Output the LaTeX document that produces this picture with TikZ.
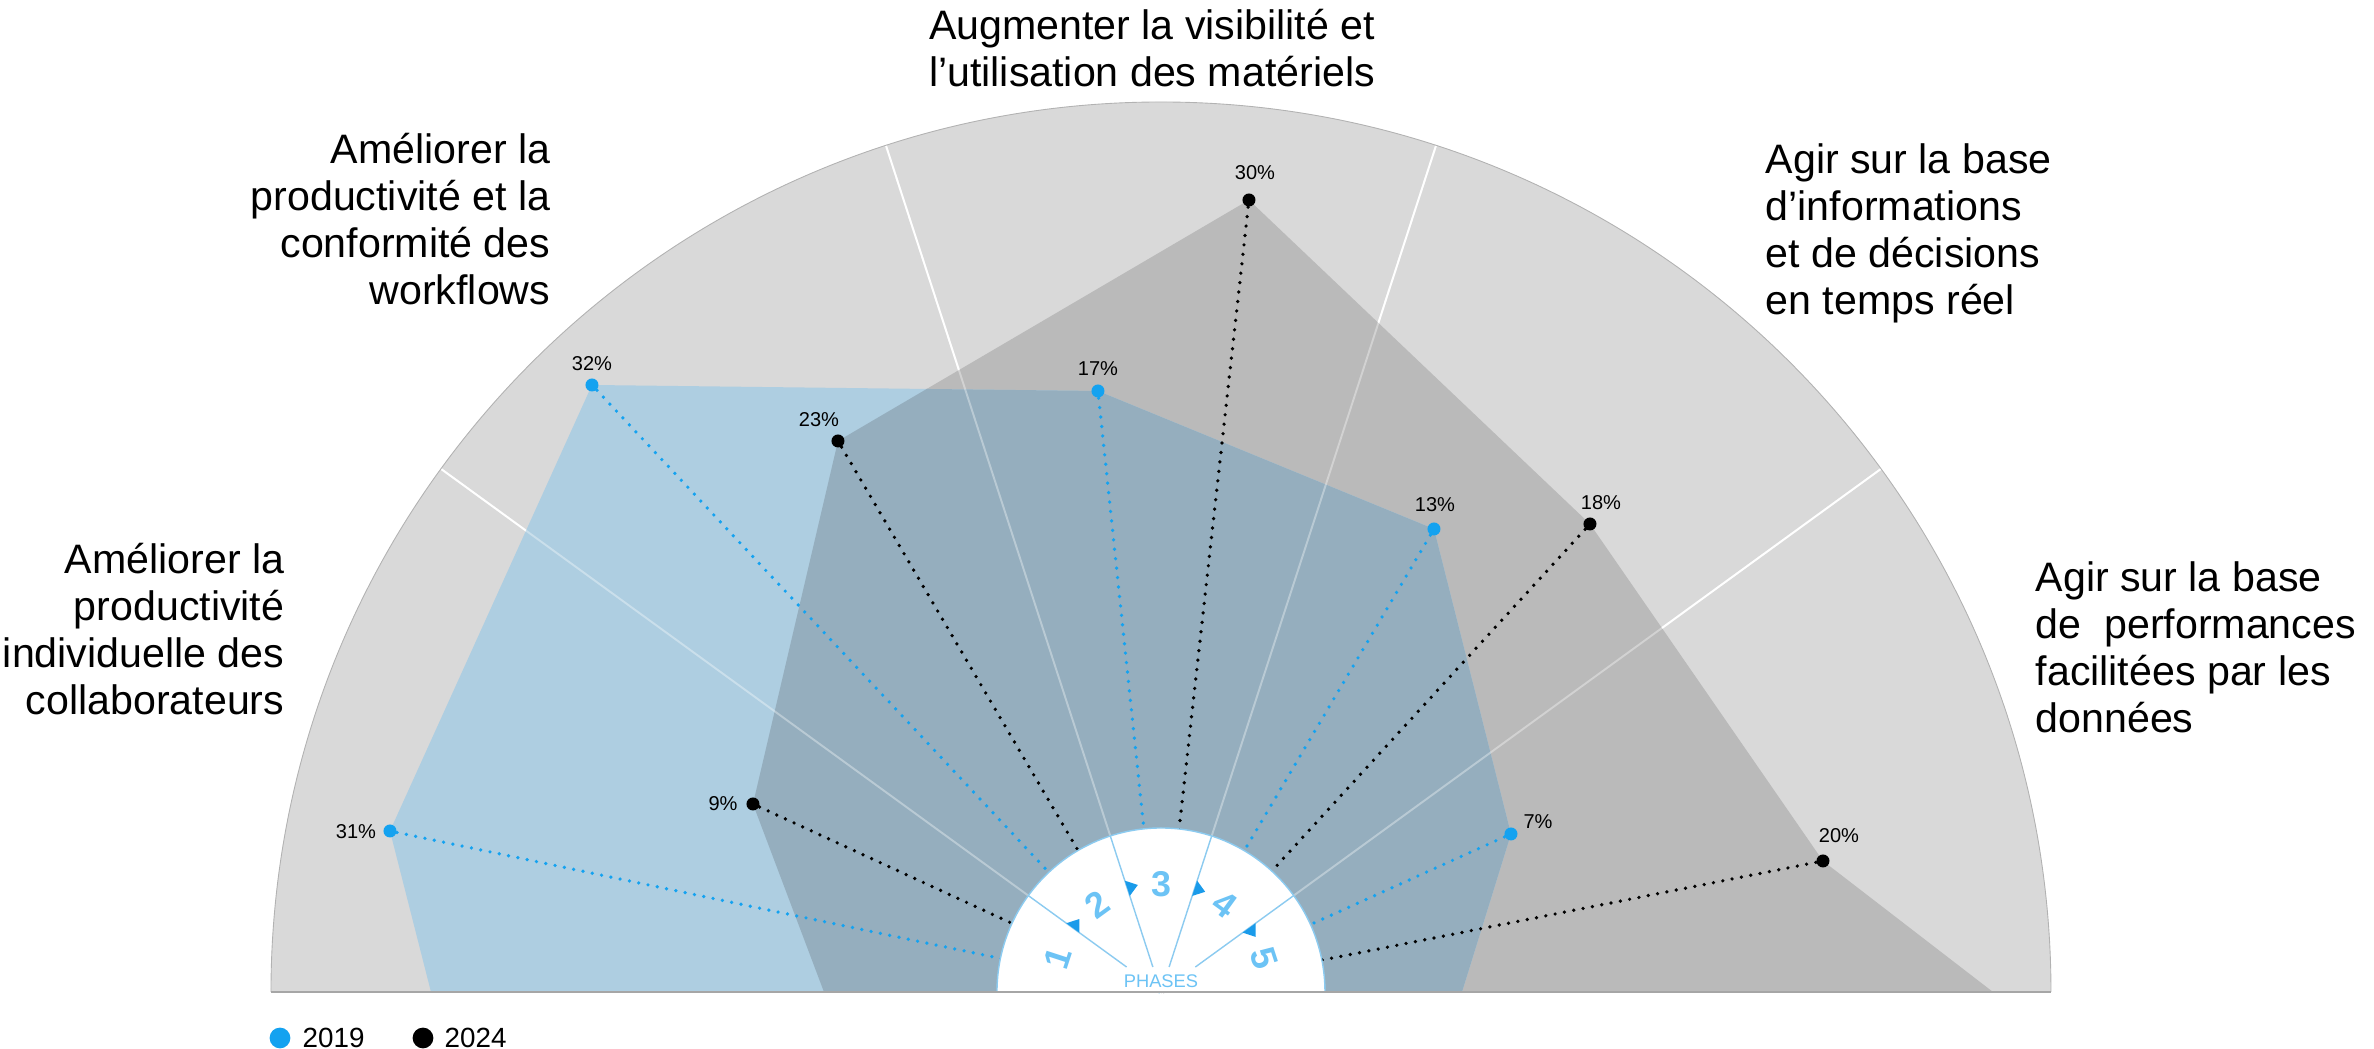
\documentclass[tikz,border=0pt]{standalone}
\usepackage{fontspec}
\setmainfont{Liberation Sans}
\definecolor{sectorgrey}{HTML}{D9D9D9}
\definecolor{grey24}{HTML}{BABABA}
\definecolor{blue19}{HTML}{AECEE1}
\definecolor{mix}{HTML}{95AEBE}
\definecolor{dotblue}{HTML}{14A2F0}
\definecolor{phaseblue}{HTML}{6CC3F5}
\definecolor{tipblue}{HTML}{1A9BEA}
\definecolor{rimblue}{HTML}{8CCBF0}

\begin{document}
\begin{tikzpicture}[
    x=0.01cm, y=0.01cm,
    point19/.style={circle, fill=dotblue, minimum size=3.7pt, inner sep=0pt},
    point24/.style={circle, fill=black, minimum size=3.7pt, inner sep=0pt},
    link19/.style={dotblue, line width=1.05pt, line cap=round, dash pattern=on 0pt off 2.7pt},
    link24/.style={black, line width=1.05pt, line cap=round, dash pattern=on 0pt off 2.7pt},
    pct/.style={inner sep=0pt, font=\fontsize{5.7}{6}\selectfont},
    goal/.style={inner sep=0pt, font=\fontsize{11.7}{13.4}\selectfont},
    phase/.style={inner sep=0pt, text=phaseblue, font=\fontsize{10.2}{11}\selectfont\bfseries},
    spoke/.style={white, line width=0.55pt},
    rim/.style={rimblue, line width=0.4pt},
    legend/.style={inner sep=0pt, font=\fontsize{7.9}{9}\selectfont}
]
    \useasboundingbox (-1161,-57) rectangle (1213,992);
    \coordinate (o) at (0,0);

    \coordinate (v19a) at (-771,161);
    \coordinate (v19b) at (-569,607);
    \coordinate (v19c) at (-63,601);
    \coordinate (v19d) at (273,463);
    \coordinate (v19e) at (350,158);
    \coordinate (v24a) at (-408,188);
    \coordinate (v24b) at (-323,551);
    \coordinate (v24c) at (88,792);
    \coordinate (v24d) at (429,468);
    \coordinate (v24e) at (662,131);

    \fill[sectorgrey] (-890,0) arc[start angle=180, end angle=0, radius=890] -- cycle;
    \draw[spoke] (o) -- (144:890);
    \draw[spoke] (o) -- (108:890);
    \draw[spoke] (o) -- (72:890);
    \draw[spoke] (o) -- (36:890);

    \fill[grey24] (-337,0) -- (v24a) -- (v24b) -- (v24c) -- (v24d) -- (v24e) -- (832,0) -- cycle;
    \fill[blue19] (-730,0) -- (v19a) -- (v19b) -- (v19c) -- (v19d) -- (v19e) -- (301,0) -- cycle;
    \begin{scope}
        \clip (-730,0) -- (v19a) -- (v19b) -- (v19c) -- (v19d) -- (v19e) -- (301,0) -- cycle;
        \fill[mix] (-337,0) -- (v24a) -- (v24b) -- (v24c) -- (v24d) -- (v24e) -- (832,0) -- cycle;
    \end{scope}
    \draw[spoke, opacity=0.35] (o) -- (144:890);
    \draw[spoke, opacity=0.35] (o) -- (108:890);
    \draw[spoke, opacity=0.35] (o) -- (72:890);
    \draw[spoke, opacity=0.35] (o) -- (36:890);
    \draw[gray!60, line width=0.25pt] (-890,0) arc[start angle=180, end angle=0, radius=890];

    \node[point19] (b1) at (v19a) {};
    \node[point19] (b2) at (v19b) {};
    \node[point19] (b3) at (v19c) {};
    \node[point19] (b4) at (v19d) {};
    \node[point19] (b5) at (v19e) {};
    \node[point24] (k1) at (v24a) {};
    \node[point24] (k2) at (v24b) {};
    \node[point24] (k3) at (v24c) {};
    \node[point24] (k4) at (v24d) {};
    \node[point24] (k5) at (v24e) {};

    \draw[link19] (b1) -- (o);
    \draw[link19] (b2) -- (o);
    \draw[link19] (b3) -- (o);
    \draw[link19] (b4) -- (o);
    \draw[link19] (b5) -- (o);
    \draw[link24] (k1) -- (o);
    \draw[link24] (k2) -- (o);
    \draw[link24] (k3) -- (o);
    \draw[link24] (k4) -- (o);
    \draw[link24] (k5) -- (o);

    \node[pct] (t1b) at (-805,160) {31\%};
    \node[pct] (t2b) at (-569,628) {32\%};
    \node[pct] (t3b) at (-63,623) {17\%};
    \node[pct] (t4b) at (274,487) {13\%};
    \node[pct] (t5b) at (377,170) {7\%};
    \node[pct] (t1k) at (-438,188) {9\%};
    \node[pct] (t2k) at (-342,572) {23\%};
    \node[pct] (t3k) at (94,819) {30\%};
    \node[pct] (t4k) at (440,489) {18\%};
    \node[pct] (t5k) at (678,156) {20\%};

    \fill[white] (164,0) arc[start angle=0, end angle=180, radius=164] -- cycle;
    \draw[rim] (164,0) arc[start angle=0, end angle=180, radius=164];
    \draw[gray!70, line width=0.5pt] (-890,0) -- (890,0);
    \draw[rim] (144:42.5) -- (144:164);
    \draw[rim] (108:26.3) -- (108:164);
    \draw[rim] (72:26.3) -- (72:164);
    \draw[rim] (36:42.5) -- (36:164);
    \fill[tipblue] (144:101) -- (144:117) -- (138.2:109.5) -- cycle;
    \fill[tipblue] (108:101) -- (108:117) -- (102.2:109.5) -- cycle;
    \fill[tipblue] (72:101) -- (72:117) -- (66.2:109.5) -- cycle;
    \fill[tipblue] (36:101) -- (36:117) -- (30.2:109.5) -- cycle;
    \node[phase, rotate=72] (ph1) at (162:108) {1};
    \node[phase, rotate=36] (ph2) at (126:108) {2};
    \node[phase] (ph3) at (90:108) {3};
    \node[phase, rotate=-36] (ph4) at (54:108) {4};
    \node[phase, rotate=-72] (ph5) at (18:108) {5};
    \node[inner sep=0pt, text=phaseblue, font=\fontsize{5.2}{6}\selectfont] (phases) at (0,11) {PHASES};

    \node[goal, align=right, anchor=base east] (g1) at (-876,277) {Améliorer la\\productivité\\individuelle des\\collaborateurs};
    \node[goal, align=right, anchor=base east] (g2) at (-610,687) {Améliorer la\\productivité et la\\conformité des\\workflows};
    \node[goal, align=center, anchor=base] (g3) at (-9,905) {Augmenter la visibilité et\\l’utilisation des matériels};
    \node[goal, align=left, anchor=base west] (g4) at (604,677) {Agir sur la base\\d’informations\\et de décisions\\en temps réel};
    \node[goal, align=left, anchor=base west] (g5) at (874,259) {Agir sur la base\\de~ performances\\facilitées par les\\données};

    \node[circle, fill=dotblue, minimum size=5.9pt, inner sep=0pt] (lg19dot) at (-881,-46) {};
    \node[legend, anchor=west] (lg19) at (-859,-46) {2019};
    \node[circle, fill=black, minimum size=5.9pt, inner sep=0pt] (lg24dot) at (-738,-46) {};
    \node[legend, anchor=west] (lg24) at (-717,-46) {2024};
\end{tikzpicture}
\end{document}
